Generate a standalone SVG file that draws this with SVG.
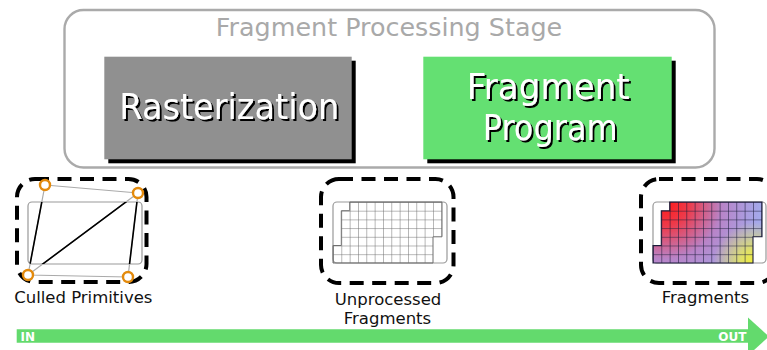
<svg xmlns="http://www.w3.org/2000/svg" width="767" height="350" viewBox="0 0 767 350">
  <style>
    .sans { font-family: "DejaVu Sans", Verdana, sans-serif; }
    .title { font-size: 25.4px; fill: #a9a9a9; }
    .big { font-size: 35px; fill: #ffffff; filter: url(#textShadow); }
    .label { font-size: 16.5px; fill: #111111; }
    .tag { font-size: 12px; font-weight: bold; fill: #ffffff; }
    .shadow { fill: #000000; }
    .dashbox { fill: none; stroke: #000000; stroke-width: 4; stroke-dasharray: 14 8.5; }
    .screen { fill: #ffffff; stroke: #999999; stroke-width: 1.2; }
    .edge-out { stroke: #aaaaaa; stroke-width: 1.2; fill: none; }
    .edge-in { stroke: #000000; stroke-width: 1.6; fill: none; }
    .vertex { fill: #ffffff; stroke: #e38a0c; stroke-width: 2.4; }
  </style>
  <defs>
    <filter id="textShadow" x="-10%" y="-20%" width="130%" height="150%">
      <feDropShadow dx="2" dy="2" stdDeviation="0.3" flood-color="#000000" flood-opacity="1"/>
    </filter>
    <!-- one grid cell, tiled over the fragment area -->
    <pattern id="cellsGray" patternUnits="userSpaceOnUse" x="0" y="0" width="8.33" height="8.7">
      <path d="M0 0H8.33M0 0V8.7" stroke="#6f6f6f" stroke-width="1" fill="none"/>
    </pattern>
    <pattern id="cellsDark" patternUnits="userSpaceOnUse" x="0" y="0" width="8.33" height="8.7">
      <path d="M0 0H8.33M0 0V8.7" stroke="#1c1c3a" stroke-width="1.1" fill="none"/>
    </pattern>
    <radialGradient id="redFall" gradientUnits="userSpaceOnUse" cx="12" cy="0" r="95">
      <stop offset="0" stop-color="#ff1818"/>
      <stop offset="0.25" stop-color="#ee3a4a"/>
      <stop offset="0.6" stop-color="#b884c8"/>
      <stop offset="1" stop-color="#a4a8ea"/>
    </radialGradient>
    <radialGradient id="yellowFall" gradientUnits="userSpaceOnUse" cx="102" cy="62" r="42">
      <stop offset="0" stop-color="#f4f030" stop-opacity="1"/>
      <stop offset="0.35" stop-color="#eaea50" stop-opacity="0.85"/>
      <stop offset="1" stop-color="#e8e860" stop-opacity="0"/>
    </radialGradient>
    <!-- covered fragment cells, in screen-local units -->
    <polygon id="coverage" points="16.7,0 109,0 109,34.8 100,34.8 100,61 0,61 0,43.5 8.3,43.5 8.3,8.7 16.7,8.7"/>
    <clipPath id="coverageClip">
      <use href="#coverage"/>
    </clipPath>
    <clipPath id="screenClip">
      <rect x="28" y="202" width="114" height="62" rx="4"/>
    </clipPath>
    <marker id="flowHead" viewBox="0 0 10 10" refX="0" refY="5" markerWidth="10" markerHeight="10" markerUnits="userSpaceOnUse" orient="auto">
      <path d="M0 0L10 5L0 10Z" fill="#63da6d"/>
    </marker>
  </defs>

  <!-- fragment processing stage container -->
  <g id="stage">
    <rect x="64.5" y="10" width="650" height="157.5" rx="19" fill="#ffffff" stroke="#aaaaaa" stroke-width="2.4"/>
    <text class="sans title" x="389" y="36" text-anchor="middle">Fragment Processing Stage</text>
  </g>

  <g id="rasterization">
    <rect class="shadow" x="108.3" y="60.7" width="247.4" height="102.6"/>
    <rect x="104.3" y="56.7" width="247.4" height="102.6" fill="#909090"/>
    <text class="sans big" x="119.3" y="119" textLength="220" lengthAdjust="spacingAndGlyphs">Rasterization</text>
  </g>

  <g id="fragment-program">
    <rect class="shadow" x="427.3" y="60.7" width="248.4" height="102.6"/>
    <rect x="423.3" y="56.7" width="248.4" height="102.6" fill="#64e072"/>
    <text class="sans big" x="466.7" y="98.5" textLength="163" lengthAdjust="spacingAndGlyphs">Fragment</text>
    <text class="sans big" x="482.7" y="140" textLength="135" lengthAdjust="spacingAndGlyphs">Program</text>
  </g>

  <!-- input: two screen-space triangles -->
  <g id="culled-primitives">
    <rect class="dashbox" x="17" y="179" width="129.5" height="103" rx="18"/>
    <rect class="screen" x="28" y="202" width="114" height="62" rx="4"/>
    <path class="edge-out" d="M45 185L138 193M28 275L128 277M45 185L28 275M138 193L28 275M138 193L128 277"/>
    <path class="edge-in" clip-path="url(#screenClip)" d="M45 185L28 275M138 193L28 275M138 193L128 277"/>
    <circle class="vertex" cx="45" cy="185" r="5"/>
    <circle class="vertex" cx="138" cy="193" r="5"/>
    <circle class="vertex" cx="28" cy="275" r="5"/>
    <circle class="vertex" cx="128" cy="277" r="5"/>
    <text class="sans label" x="83.3" y="303" text-anchor="middle">Culled Primitives</text>
  </g>

  <!-- rasterized but not yet shaded -->
  <g id="unprocessed-fragments">
    <rect class="dashbox" x="321" y="179" width="132.5" height="104" rx="18"/>
    <rect class="screen" x="333" y="202" width="114" height="61" rx="4"/>
    <g transform="translate(333,202)">
      <use href="#coverage" fill="url(#cellsGray)"/>
      <use href="#coverage" fill="none" stroke="#6f6f6f" stroke-width="1"/>
    </g>
    <text class="sans label" x="388" y="305" text-anchor="middle">Unprocessed</text>
    <text class="sans label" x="387.5" y="324.3" text-anchor="middle">Fragments</text>
  </g>

  <!-- shaded output fragments -->
  <g id="fragments">
    <rect class="dashbox" x="641" y="179" width="134" height="104" rx="18"/>
    <rect class="screen" x="653" y="202" width="113" height="61" rx="4"/>
    <g transform="translate(653,202)">
      <g clip-path="url(#coverageClip)">
        <rect x="0" y="0" width="110" height="61" fill="url(#redFall)"/>
        <rect x="0" y="0" width="110" height="61" fill="url(#yellowFall)"/>
      </g>
      <use href="#coverage" fill="url(#cellsDark)"/>
      <use href="#coverage" fill="none" stroke="#1c1c3a" stroke-width="1.1"/>
    </g>
    <text class="sans label" x="705.5" y="303" text-anchor="middle">Fragments</text>
  </g>

  <!-- data flow through the stage -->
  <g id="connectors">
    <g id="flow-arrow">
      <path d="M16.7 336H748" stroke="#63da6d" stroke-width="13.4" fill="none"/>
      <path d="M748 317.5L769 336.5L748 355.5Z" fill="#63da6d"/>
      <text class="sans tag" x="20.5" y="340.5">IN</text>
      <text class="sans tag" x="746.5" y="341" text-anchor="end">OUT</text>
    </g>
  </g>
</svg>
